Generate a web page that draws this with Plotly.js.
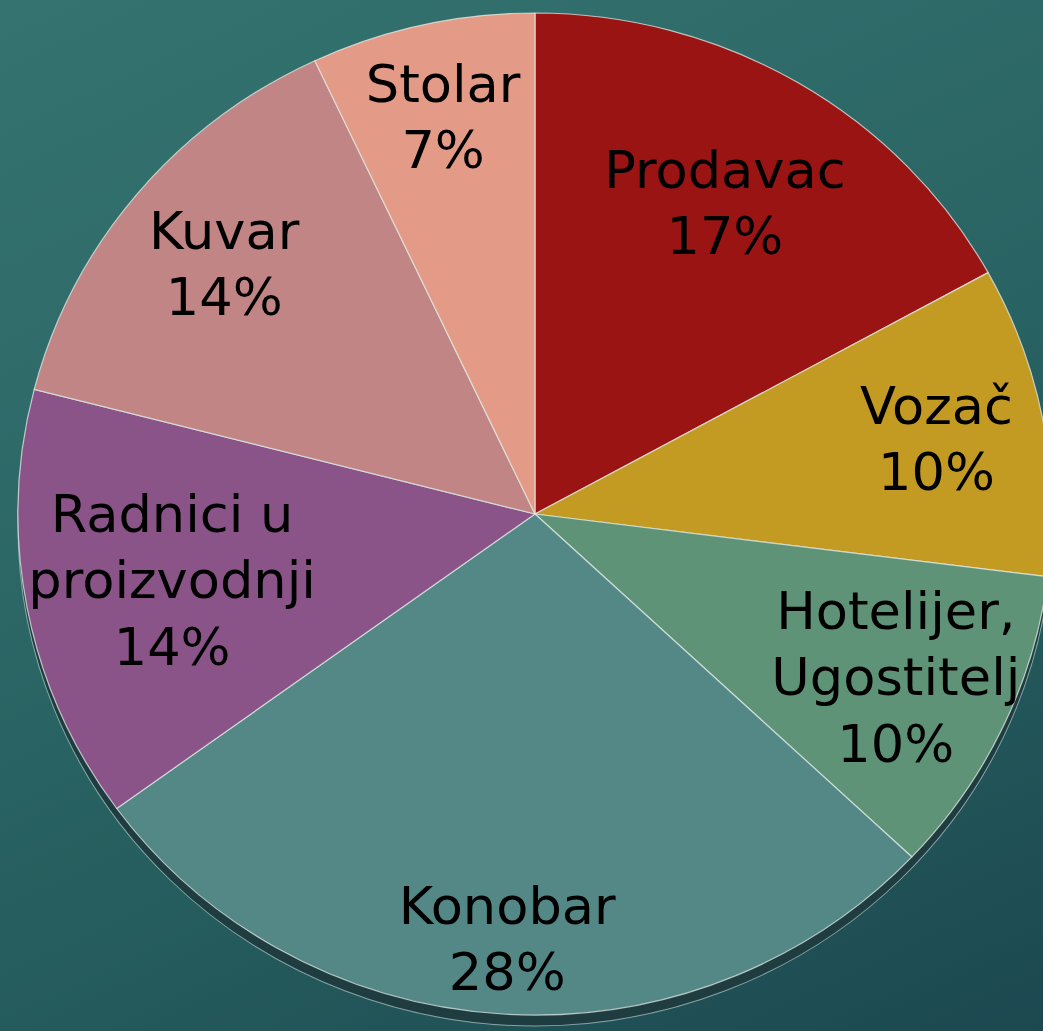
<!DOCTYPE html>
<html>
<head>
<meta charset="utf-8">
<script src="https://cdn.plot.ly/plotly-3.0.1.min.js"></script>
<style>
  html, body { margin: 0; padding: 0; width: 1043px; height: 1031px; overflow: hidden; }
  body { background: linear-gradient(155deg, #347370 0%, #2c6766 40%, #245a5c 70%, #1c4850 100%); position: relative; }
  #chart { position: absolute; left: -15px; top: -36px; width: 1100px; height: 1100px;
           transform: scaleX(1.032); transform-origin: 550px 550px; }
</style>
</head>
<body>
<div id="chart"></div>
<script>
// Data
const categories = ["Prodavac", "Vozač", "Hotelijer,<br>Ugostitelj", "Konobar", "Radnici u<br>proizvodnji", "Kuvar", "Stolar"];
const shares = [17, 10, 10, 28, 14, 14, 7];
const sliceColors = ["#9a1414", "#c39a22", "#5f9378", "#538887", "#8a5488", "#c08584", "#e39a86"];

// Layout helpers (placement only, not data)
const SIZE = 1100, R = 501;
const labelRadius = [0.72, 0.79, 0.77, 0.85, 0.715, 0.78, 0.81]; // fraction of radius where each label sits

const lo = (SIZE / 2 - R) / SIZE, hi = (SIZE / 2 + R) / SIZE, rimShift = 11 / SIZE;
const mainDomain = { x: [lo, hi], y: [lo, hi] };
const rimDomain = { x: [lo, hi], y: [lo - rimShift, hi - rimShift] };

const total = shares.reduce((a, b) => a + b, 0);
let cum = 0;
const annotations = shares.map((v, i) => {
  const mid = (cum + v / 2) / total * 2 * Math.PI; // clockwise from 12 o'clock
  cum += v;
  const pct = Math.round(v / total * 100);
  const rr = labelRadius[i] * R / SIZE;
  return {
    xref: "paper", yref: "paper",
    x: 0.5 + rr * Math.sin(mid),
    y: 0.5 + rr * Math.cos(mid),
    xanchor: "center", yanchor: "middle",
    text: categories[i] + "<br>" + pct + "%",
    showarrow: false,
    align: "center",
    font: { family: "DejaVu Sans, sans-serif", size: 51, color: "#000000" }
  };
});

const rim = {
  type: "pie",
  values: [1],
  labels: ["rim"],
  marker: { colors: ["#1f3c40"], line: { color: "rgba(200,225,220,0.6)", width: 1 } },
  textinfo: "none",
  hoverinfo: "skip",
  showlegend: false,
  sort: false,
  domain: rimDomain
};

const main = {
  type: "pie",
  values: shares,
  labels: categories,
  textinfo: "none",
  marker: { colors: sliceColors, line: { color: "rgba(225,235,230,0.75)", width: 1.2 } },
  sort: false,
  direction: "clockwise",
  rotation: 0,
  hoverinfo: "none",
  showlegend: false,
  domain: mainDomain
};

const layout = {
  width: SIZE,
  height: SIZE,
  margin: { l: 0, r: 0, t: 0, b: 0 },
  paper_bgcolor: "rgba(0,0,0,0)",
  plot_bgcolor: "rgba(0,0,0,0)",
  showlegend: false,
  annotations: annotations
};

Plotly.newPlot("chart", [rim, main], layout, { displayModeBar: false, staticPlot: true });
</script>
</body>
</html>
